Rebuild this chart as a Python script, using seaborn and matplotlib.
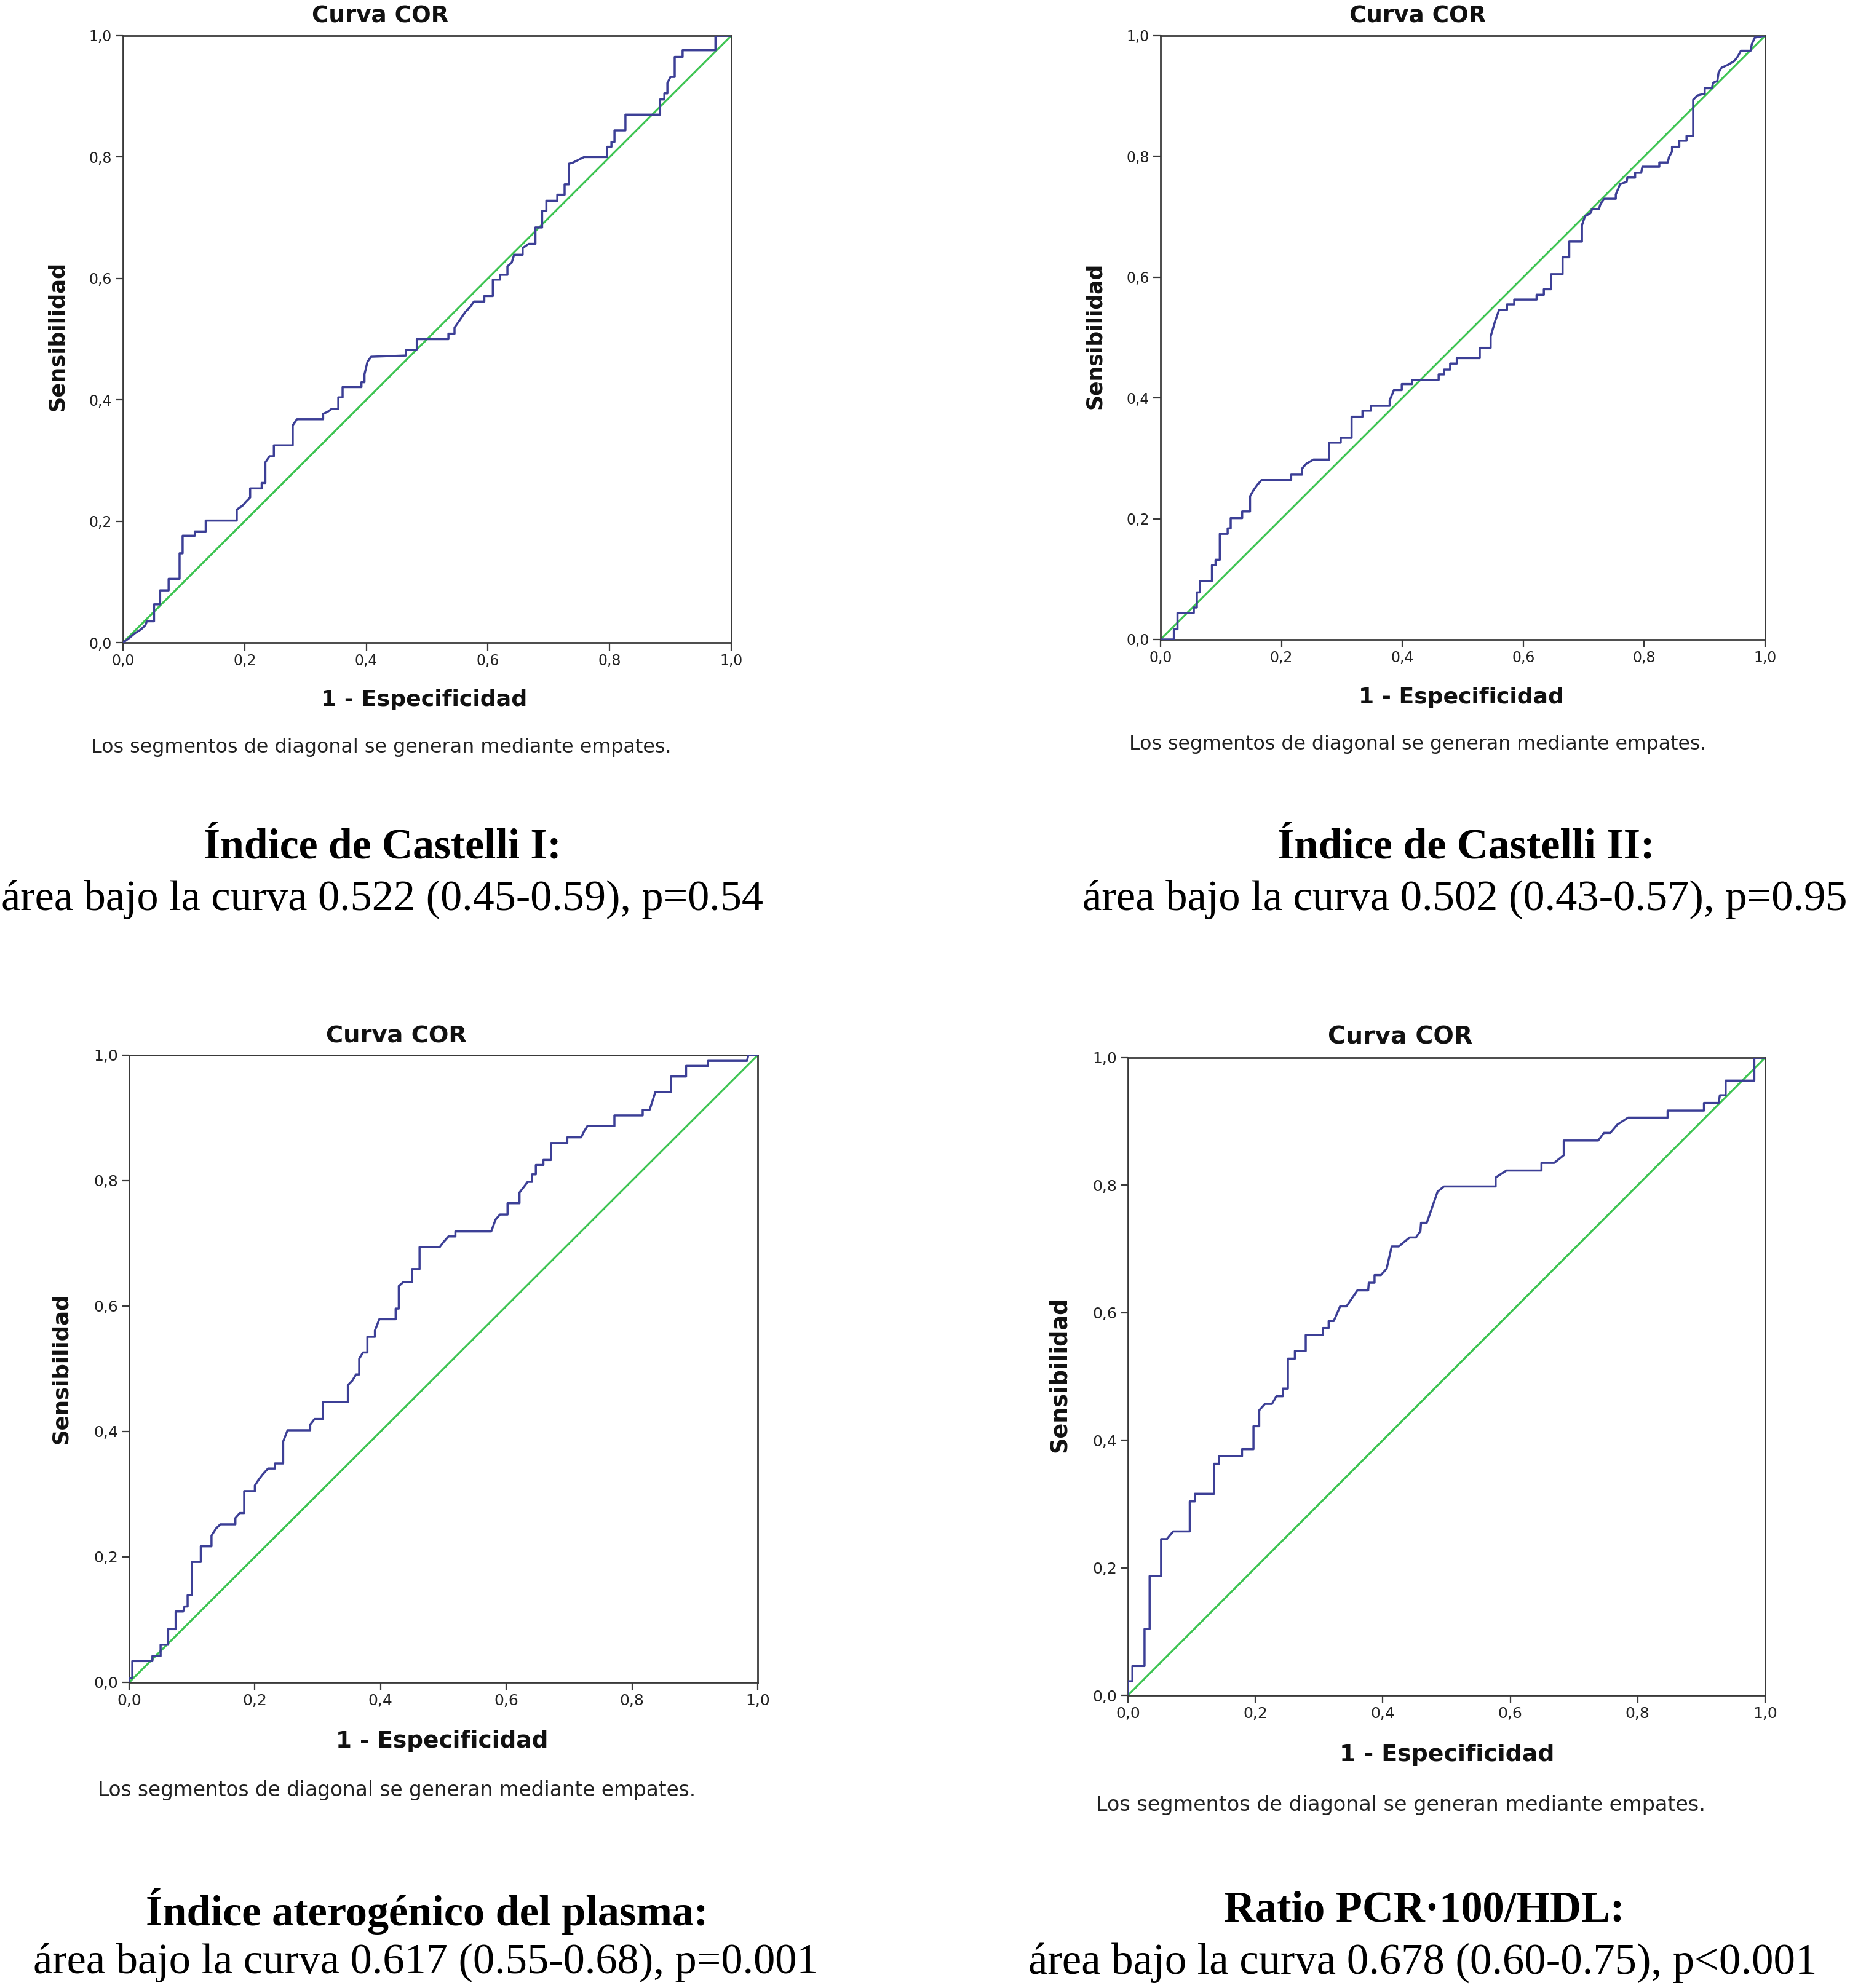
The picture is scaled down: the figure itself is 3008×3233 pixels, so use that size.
import numpy as np
import pandas as pd
import matplotlib
matplotlib.use("Agg")
import matplotlib.pyplot as plt
import seaborn as sns

# ---------------- data ----------------
ticks = [0.0, 0.2, 0.4, 0.6, 0.8, 1.0]
tick_labels = ["0,0", "0,2", "0,4", "0,6", "0,8", "1,0"]
diag = [0.0, 1.0]

titles = ["Índice de Castelli I:", "Índice de Castelli II:",
          "Índice aterogénico del plasma:", "Ratio PCR·100/HDL:"]
auc_texts = ["área bajo la curva 0.522 (0.45-0.59), p=0.54",
             "área bajo la curva 0.502 (0.43-0.57), p=0.95",
             "área bajo la curva 0.617 (0.55-0.68), p=0.001",
             "área bajo la curva 0.678 (0.60-0.75), p<0.001"]
chart_title = "Curva COR"
xlabel = "1 - Especificidad"
ylabel = "Sensibilidad"
footnote = "Los segmentos de diagonal se generan mediante empates."

fpr1 = [0, 0.011, 0.019, 0.030, 0.037, 0.039, 0.051, 0.051, 0.061, 0.061, 0.075, 0.075, 0.093, 0.093,
        0.098, 0.098, 0.118, 0.118, 0.136, 0.136, 0.187, 0.187, 0.197, 0.202, 0.209, 0.209, 0.228, 0.228,
        0.234, 0.234, 0.241, 0.248, 0.248, 0.279, 0.279, 0.286, 0.329, 0.329, 0.336, 0.343, 0.354, 0.354,
        0.361, 0.361, 0.392, 0.392, 0.397, 0.397, 0.402, 0.408, 0.465, 0.465, 0.483, 0.483, 0.535, 0.535,
        0.545, 0.545, 0.552, 0.563, 0.570, 0.577, 0.594, 0.594, 0.608, 0.608, 0.620, 0.620, 0.632, 0.632,
        0.639, 0.643, 0.657, 0.657, 0.667, 0.678, 0.678, 0.689, 0.689, 0.696, 0.696, 0.714, 0.714, 0.726,
        0.726, 0.733, 0.733, 0.740, 0.758, 0.796, 0.796, 0.803, 0.803, 0.808, 0.808, 0.826, 0.826, 0.883,
        0.883, 0.890, 0.890, 0.895, 0.895, 0.900, 0.907, 0.907, 0.920, 0.920, 0.974, 0.974, 1.0]
tpr1 = [0, 0.008, 0.015, 0.022, 0.029, 0.035, 0.035, 0.063, 0.063, 0.086, 0.086, 0.105, 0.105, 0.147,
        0.147, 0.176, 0.176, 0.183, 0.183, 0.201, 0.201, 0.219, 0.226, 0.232, 0.239, 0.254, 0.254, 0.263,
        0.263, 0.297, 0.307, 0.307, 0.325, 0.325, 0.358, 0.368, 0.368, 0.377, 0.380, 0.385, 0.385, 0.404,
        0.404, 0.421, 0.421, 0.429, 0.429, 0.442, 0.463, 0.471, 0.473, 0.482, 0.482, 0.500, 0.500, 0.509,
        0.509, 0.519, 0.529, 0.545, 0.552, 0.562, 0.562, 0.571, 0.571, 0.598, 0.598, 0.606, 0.606, 0.620,
        0.626, 0.639, 0.639, 0.650, 0.657, 0.657, 0.684, 0.684, 0.711, 0.711, 0.728, 0.728, 0.738, 0.738,
        0.755, 0.755, 0.789, 0.791, 0.800, 0.800, 0.817, 0.817, 0.825, 0.825, 0.844, 0.844, 0.870, 0.870,
        0.895, 0.895, 0.905, 0.905, 0.922, 0.932, 0.932, 0.965, 0.965, 0.976, 0.976, 1.0, 1.0]

fpr2 = [0, 0.022, 0.022, 0.028, 0.028, 0.055, 0.055, 0.060, 0.060, 0.065, 0.065, 0.085, 0.085, 0.091,
        0.091, 0.098, 0.098, 0.111, 0.111, 0.116, 0.116, 0.135, 0.135, 0.148, 0.148, 0.153, 0.160, 0.167,
        0.216, 0.216, 0.234, 0.234, 0.241, 0.253, 0.279, 0.279, 0.298, 0.298, 0.316, 0.316, 0.334, 0.334,
        0.348, 0.348, 0.379, 0.379, 0.386, 0.399, 0.399, 0.416, 0.416, 0.460, 0.460, 0.469, 0.469, 0.479,
        0.479, 0.490, 0.490, 0.528, 0.528, 0.546, 0.546, 0.553, 0.560, 0.573, 0.573, 0.585, 0.585, 0.622,
        0.622, 0.634, 0.634, 0.646, 0.646, 0.665, 0.665, 0.676, 0.676, 0.697, 0.697, 0.702, 0.711, 0.714,
        0.725, 0.728, 0.734, 0.753, 0.753, 0.760, 0.771, 0.772, 0.785, 0.785, 0.795, 0.797, 0.825, 0.825,
        0.839, 0.841, 0.846, 0.846, 0.858, 0.858, 0.870, 0.870, 0.881, 0.881, 0.888, 0.900, 0.900, 0.912,
        0.914, 0.921, 0.923, 0.928, 0.939, 0.949, 0.955, 0.960, 0.976, 0.978, 0.983, 1.0]
tpr2 = [0, 0, 0.017, 0.017, 0.044, 0.044, 0.053, 0.053, 0.078, 0.078, 0.097, 0.097, 0.123, 0.123,
        0.132, 0.132, 0.175, 0.175, 0.184, 0.184, 0.201, 0.201, 0.212, 0.212, 0.237, 0.246, 0.256, 0.264,
        0.264, 0.273, 0.273, 0.283, 0.291, 0.298, 0.298, 0.326, 0.326, 0.334, 0.334, 0.369, 0.369, 0.379,
        0.379, 0.387, 0.387, 0.396, 0.413, 0.413, 0.423, 0.423, 0.430, 0.430, 0.439, 0.439, 0.447, 0.447,
        0.457, 0.457, 0.466, 0.466, 0.483, 0.483, 0.502, 0.526, 0.546, 0.546, 0.555, 0.555, 0.563, 0.563,
        0.571, 0.571, 0.580, 0.580, 0.605, 0.605, 0.633, 0.633, 0.659, 0.659, 0.686, 0.701, 0.706, 0.713,
        0.713, 0.722, 0.730, 0.730, 0.737, 0.754, 0.758, 0.765, 0.765, 0.773, 0.773, 0.783, 0.783, 0.790,
        0.790, 0.799, 0.808, 0.816, 0.816, 0.826, 0.826, 0.834, 0.834, 0.894, 0.901, 0.904, 0.913, 0.913,
        0.922, 0.925, 0.939, 0.947, 0.952, 0.958, 0.966, 0.975, 0.975, 0.986, 0.997, 1.0]

fpr3 = [0, 0, 0.005, 0.005, 0.037, 0.037, 0.050, 0.050, 0.062, 0.062, 0.074, 0.074, 0.086, 0.088,
        0.093, 0.093, 0.100, 0.100, 0.114, 0.114, 0.131, 0.131, 0.138, 0.145, 0.169, 0.169, 0.176, 0.183,
        0.183, 0.200, 0.200, 0.206, 0.212, 0.221, 0.232, 0.232, 0.245, 0.245, 0.252, 0.288, 0.288, 0.295,
        0.308, 0.308, 0.348, 0.348, 0.355, 0.361, 0.366, 0.366, 0.372, 0.379, 0.379, 0.391, 0.391, 0.398,
        0.424, 0.424, 0.429, 0.429, 0.436, 0.450, 0.450, 0.462, 0.462, 0.494, 0.500, 0.508, 0.519, 0.519,
        0.576, 0.583, 0.590, 0.602, 0.602, 0.621, 0.621, 0.628, 0.634, 0.641, 0.641, 0.647, 0.647, 0.659,
        0.659, 0.671, 0.671, 0.697, 0.697, 0.719, 0.724, 0.729, 0.772, 0.772, 0.817, 0.817, 0.828, 0.831,
        0.837, 0.862, 0.862, 0.886, 0.886, 0.921, 0.921, 0.983, 0.985, 1.0]
tpr3 = [0, 0.007, 0.007, 0.034, 0.034, 0.042, 0.042, 0.060, 0.060, 0.085, 0.085, 0.113, 0.113, 0.121,
        0.121, 0.139, 0.139, 0.192, 0.192, 0.217, 0.217, 0.234, 0.245, 0.252, 0.252, 0.262, 0.270, 0.270,
        0.305, 0.305, 0.314, 0.323, 0.331, 0.341, 0.341, 0.349, 0.349, 0.384, 0.402, 0.402, 0.411, 0.420,
        0.420, 0.447, 0.447, 0.474, 0.481, 0.491, 0.491, 0.516, 0.526, 0.526, 0.551, 0.551, 0.561, 0.579,
        0.579, 0.596, 0.596, 0.632, 0.638, 0.638, 0.659, 0.659, 0.694, 0.694, 0.702, 0.711, 0.711, 0.719,
        0.719, 0.738, 0.746, 0.746, 0.764, 0.764, 0.781, 0.790, 0.798, 0.798, 0.810, 0.810, 0.825, 0.825,
        0.833, 0.833, 0.860, 0.860, 0.869, 0.869, 0.879, 0.887, 0.887, 0.904, 0.904, 0.913, 0.913, 0.922,
        0.941, 0.941, 0.966, 0.966, 0.983, 0.983, 0.991, 0.991, 1.0, 1.0]

fpr4 = [0, 0, 0.007, 0.007, 0.026, 0.026, 0.034, 0.034, 0.052, 0.052, 0.061, 0.071, 0.097, 0.097,
        0.105, 0.105, 0.135, 0.135, 0.143, 0.143, 0.179, 0.179, 0.197, 0.197, 0.206, 0.206, 0.215, 0.226,
        0.233, 0.243, 0.243, 0.251, 0.251, 0.262, 0.262, 0.279, 0.279, 0.306, 0.306, 0.315, 0.315, 0.323,
        0.333, 0.343, 0.360, 0.377, 0.378, 0.387, 0.387, 0.397, 0.406, 0.414, 0.425, 0.442, 0.452, 0.459,
        0.460, 0.469, 0.486, 0.496, 0.577, 0.577, 0.594, 0.649, 0.649, 0.669, 0.684, 0.684, 0.738, 0.747,
        0.757, 0.768, 0.785, 0.847, 0.847, 0.904, 0.904, 0.927, 0.929, 0.938, 0.938, 0.983, 0.983, 1.0]
tpr4 = [0, 0.022, 0.022, 0.046, 0.046, 0.104, 0.104, 0.187, 0.187, 0.245, 0.245, 0.257, 0.257, 0.304,
        0.304, 0.316, 0.316, 0.363, 0.363, 0.375, 0.375, 0.386, 0.386, 0.422, 0.422, 0.447, 0.457, 0.457,
        0.469, 0.469, 0.481, 0.481, 0.528, 0.528, 0.540, 0.540, 0.565, 0.565, 0.576, 0.576, 0.587, 0.587,
        0.610, 0.610, 0.635, 0.635, 0.647, 0.647, 0.659, 0.659, 0.669, 0.704, 0.704, 0.718, 0.718, 0.728,
        0.741, 0.741, 0.790, 0.798, 0.798, 0.812, 0.823, 0.823, 0.835, 0.835, 0.847, 0.870, 0.870, 0.882,
        0.882, 0.895, 0.906, 0.906, 0.917, 0.917, 0.929, 0.929, 0.941, 0.941, 0.964, 0.964, 1.0, 1.0]

curves = [(fpr1, tpr1), (fpr2, tpr2), (fpr3, tpr3), (fpr4, tpr4)]

# ---------------- layout (pixels in a 3008 x 3233 canvas) ----------------
W, H = 3008, 3233
axes_px = [(200, 1189, 58, 1045), (1887, 2870, 58, 1040),
           (210, 1232, 1716, 2736), (1834, 2870, 1720, 2757)]
# text layout: (center x, center y, target width)
title_px = [(618, 26, 222), (2305, 26, 222), (645, 1685, 229), (2277, 1687, 235)]
xlab_px = [(690, 1138, 336), (2376, 1134, 334), (719, 2832, 346), (2353, 2854, 350)]
ylab_px = [(93, 546, 243), (1780, 546, 239), (99, 2225, 245), (1722, 2235, 253)]
foot_px = [(620, 1216, 944), (2305, 1210, 940), (645, 2912, 972), (2277, 2935, 989)]
bold_px = [(622, 1378, 583), (2384, 1378, 614), (694, 3108, 915), (2316, 3108, 651)]
auc_px = [(622, 1463, 1238), (2382, 1463, 1242), (692, 3192, 1275), (2313, 3192, 1279)]
tick_fs = [17, 17, 18, 18]

sns.set_style("white")
plt.rcParams["font.family"] = ["DejaVu Sans"]

CURVE = "#3c3f96"
DIAG = "#3dc452"
SPINE = "#3a3a3a"

fig = plt.figure(figsize=(W / 100, H / 100), dpi=100)
fig.patch.set_facecolor("white")
renderer = fig.canvas.get_renderer()


def fit_text(cx, cy, s, target, rotation=0, **kw):
    t = fig.text(cx / W, 1 - cy / H, s, ha="center", va="center",
                 fontsize=20, rotation=rotation, **kw)
    bb = t.get_window_extent(renderer)
    size = bb.height if rotation == 90 else bb.width
    t.set_fontsize(20 * target / size)
    return t


for i, (fx, ty) in enumerate(curves):
    l, r, t, b = axes_px[i]
    ax = fig.add_axes([l / W, 1 - b / H, (r - l) / W, (b - t) / H])
    df = pd.DataFrame({"fpr": fx, "tpr": ty})
    sns.lineplot(data=df, x="fpr", y="tpr", sort=False, estimator=None,
                 color=CURVE, linewidth=2.5, ax=ax, zorder=3)
    sns.lineplot(x=diag, y=diag, sort=False, estimator=None,
                 color=DIAG, linewidth=2.3, ax=ax, zorder=2)
    ax.set_xlim(0, 1)
    ax.set_ylim(0, 1)
    ax.set_xticks(ticks)
    ax.set_yticks(ticks)
    ax.set_xticklabels(tick_labels)
    ax.set_yticklabels(tick_labels)
    ax.tick_params(axis="both", direction="out", length=9, width=1.6,
                   color=SPINE, labelsize=tick_fs[i], labelcolor="#222222", pad=4)
    ax.tick_params(left=True, bottom=True)
    ax.set_xlabel("")
    ax.set_ylabel("")
    for sp in ax.spines.values():
        sp.set_visible(True)
        sp.set_color(SPINE)
        sp.set_linewidth(2.0)
    ax.set_facecolor("white")

    fit_text(*title_px[i][:2], chart_title, title_px[i][2], fontweight="bold", color="#111111")
    fit_text(*xlab_px[i][:2], xlabel, xlab_px[i][2], fontweight="bold", color="#111111")
    fit_text(*ylab_px[i][:2], ylabel, ylab_px[i][2], rotation=90, fontweight="bold", color="#111111")
    fit_text(*foot_px[i][:2], footnote, foot_px[i][2], color="#222222")
    fit_text(*bold_px[i][:2], titles[i], bold_px[i][2], fontweight="bold",
             family=["Liberation Serif", "DejaVu Serif"], color="black")
    fit_text(*auc_px[i][:2], auc_texts[i], auc_px[i][2],
             family=["Liberation Serif", "DejaVu Serif"], color="black")

fig.savefig("out.png", dpi=100, facecolor="white")
